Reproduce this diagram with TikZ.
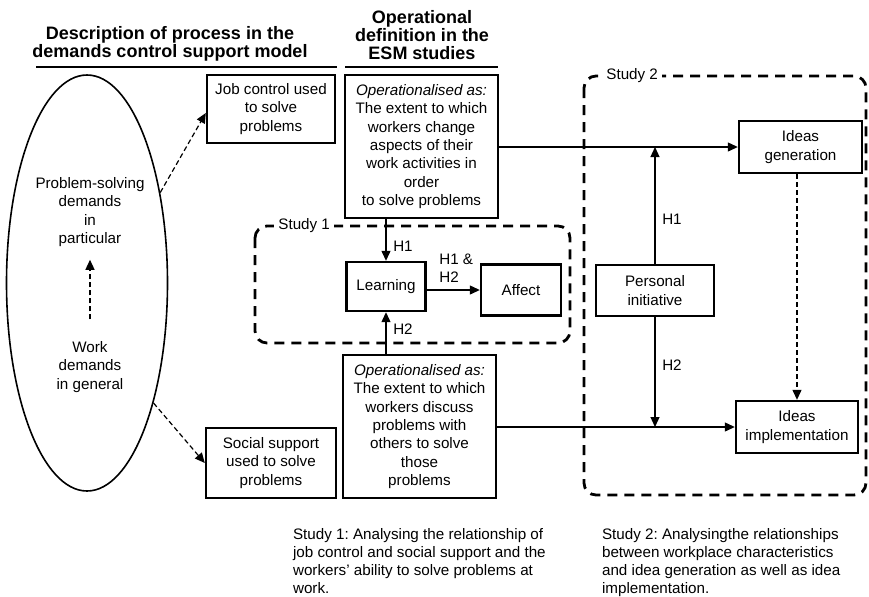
\documentclass[tikz,border=0pt]{standalone}
\usepackage{fontspec}
\setmainfont{Liberation Sans}
\usetikzlibrary{arrows.meta,shapes.geometric}
\frenchspacing

\begin{document}
\begin{tikzpicture}[x=0.5pt,y=-0.5pt,
  font=\fontsize{7.6}{9.2}\selectfont,
  box/.style={draw,line width=1.2pt,align=center,inner sep=1pt},
  arr/.style={-{Triangle[length=5pt,width=4.5pt]},line width=0.6pt},
  dasharr/.style={arr,dash pattern=on 2.5pt off 1.5pt},
  studyframe/.style={line width=1.4pt,dash pattern=on 5pt off 3.5pt,rounded corners=6pt},
  hd/.style={font=\fontsize{9}{9}\selectfont\bfseries,align=center},
  caption/.style={align=left,anchor=north west,font=\fontsize{7.6}{9}\selectfont}]
	\useasboundingbox (0,0) rectangle (869,596);
	\node[hd] (hdesc) at (170,44) {Description of process in the\\demands control support model};
	\node[hd] (hop) at (422,35) {Operational\\definition in the\\ESM studies};
	\draw[line width=1.2pt] (36,67) -- (337,67);
	\draw[line width=1.2pt] (345,67) -- (498,67);
	\node[draw,ellipse,line width=0.8pt,minimum width=80.5pt,minimum height=208pt] (demands) at (87,283) {};
	\node[align=center] (probsolve) at (90,212) {Problem-solving\\demands\\in\\particular};
	\node[align=center] (workdem) at (90,367) {Work\\demands\\in general};
	\draw[studyframe] (255,226) rectangle (570,343);
	\node[fill=white,inner sep=2pt,anchor=west] (studyone) at (274,226) {Study 1};
	\draw[studyframe] (584,76) rectangle (866,495);
	\node[fill=white,inner sep=2pt,anchor=west] (studytwo) at (602,76) {Study 2};
	\node[box,minimum width=64pt,minimum height=34pt] (jobctl) at (271,109) {Job control used\\to solve\\problems};
	\node[box,minimum width=76.5pt,minimum height=71.5pt] (opctl) at (421.5,146.5) {\textit{Operationalised as:}\\The extent to which\\workers change\\aspects of their\\work activities in\\order\\to solve problems};
	\node[box,minimum width=65pt,minimum height=35pt] (socsup) at (271,463) {Social support\\used to solve\\problems};
	\node[box,minimum width=76.5pt,minimum height=71.5pt] (opsup) at (419.5,426.5) {\textit{Operationalised as:}\\The extent to which\\workers discuss\\problems with\\others to solve\\those\\problems};
	\node[box,minimum width=39.5pt,minimum height=24.5pt] (learn) at (386,286.5) {Learning};
	\node[box,minimum width=40pt,minimum height=25.5pt] (affect) at (521,290) {Affect};
	\node[box,minimum width=59pt,minimum height=25.5pt] (persinit) at (655,290.5) {Personal\\initiative};
	\node[box,minimum width=61.5pt,minimum height=26pt] (ideagen) at (800.5,147) {Ideas\\generation};
	\node[box,minimum width=61pt,minimum height=26pt] (ideaimp) at (797,427) {Ideas\\implementation};
	\draw[dasharr,shorten <=7.5pt,shorten >=3pt] (workdem.north) -- (probsolve.south);
	\draw[dasharr] (demands.51) -- ([yshift=-2pt]jobctl.west);
	\draw[dasharr] (demands.-61) -- (socsup.west);
	\draw[arr] (opctl.south -| learn.north) -- node[right,pos=0.65] {H1} (learn.north);
	\draw[arr] (opsup.north -| learn.south) -- node[right,pos=0.6] {H2} (learn.south);
	\draw[arr] (learn.east |- affect.west) -- node[above right,pos=0.1,align=left] {H1 \&\\H2} (affect.west);
	\draw[arr] (opctl.east |- ideagen.west) -- (ideagen.west);
	\draw[arr] (opsup.east |- ideaimp.west) -- (ideaimp.west);
	\draw[arr] (persinit.north) -- node[right,pos=0.38] {H1} (persinit.north |- ideagen.west);
	\draw[arr] (persinit.south) -- node[right,pos=0.44] {H2} (persinit.south |- ideaimp.west);
	\draw[dasharr] (ideagen.south -| ideaimp.north) -- (ideaimp.north);
	\node[caption] (capone) at (286,521) {Study 1: Analysing the relationship of\\job control and social support and the\\workers' ability to solve problems at\\work.};
	\node[caption] (captwo) at (595,521) {Study 2: Analysingthe relationships\\between workplace characteristics\\and idea generation as well as idea\\implementation.};
\end{tikzpicture}
\end{document}
